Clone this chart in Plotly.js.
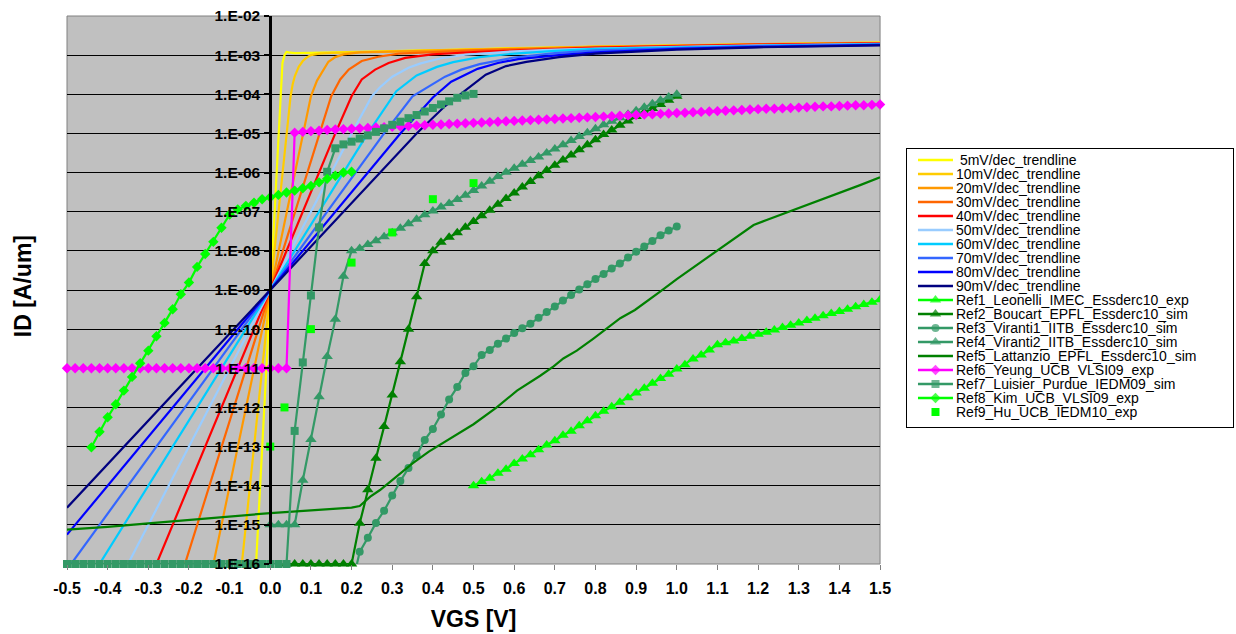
<!DOCTYPE html>
<html><head><meta charset="utf-8">
<script src="https://cdn.plot.ly/plotly-3.0.1.min.js"></script>
<style>html,body{margin:0;padding:0;background:#fff;}#chart{width:1236px;height:634px;}</style>
</head><body><div id="chart"></div>
<script>
// ---------- axis ticks ----------
const VGS_TICKS = [-0.5,-0.4,-0.3,-0.2,-0.1,0.0,0.1,0.2,0.3,0.4,0.5,0.6,0.7,0.8,0.9,1.0,1.1,1.2,1.3,1.4,1.5];
const VGS_TICK_LABELS = ["-0.5","-0.4","-0.3","-0.2","-0.1","0.0","0.1","0.2","0.3","0.4","0.5","0.6","0.7","0.8","0.9","1.0","1.1","1.2","1.3","1.4","1.5"];
const ID_TICKS = [1e-16,1e-15,1e-14,1e-13,1e-12,1e-11,1e-10,1e-9,1e-8,1e-7,1e-6,1e-5,1e-4,1e-3,1e-2];
const ID_TICK_LABELS = ["1.E-16","1.E-15","1.E-14","1.E-13","1.E-12","1.E-11","1.E-10","1.E-09","1.E-08","1.E-07","1.E-06","1.E-05","1.E-04","1.E-03","1.E-02"];

// ---------- series names ----------
const SERIES_NAMES = ["\u00A05mV/dec_trendline","10mV/dec_trendline","20mV/dec_trendline","30mV/dec_trendline","40mV/dec_trendline","50mV/dec_trendline","60mV/dec_trendline","70mV/dec_trendline","80mV/dec_trendline","90mV/dec_trendline","Ref1_Leonelli_IMEC_Essderc10_exp","Ref2_Boucart_EPFL_Essderc10_sim","Ref3_Viranti1_IITB_Essderc10_sim","Ref4_Viranti2_IITB_Essderc10_sim","Ref5_Lattanzio_EPFL_Essderc10_sim","Ref6_Yeung_UCB_VLSI09_exp","Ref7_Luisier_Purdue_IEDM09_sim","Ref8_Kim_UCB_VLSI09_exp","Ref9_Hu_UCB_IEDM10_exp"];

// ---------- data: VGS [V] and log10(ID [A/um]) ----------
const tl5_V    = [-0.04,0,0.02,0.03,0.035,0.04,0.045,0.06,0.1,0.2,0.3,0.4,0.5,0.6,0.7,0.8,0.9,1.0,1.1,1.2,1.3,1.4,1.5];
const tl5_logI = [-17,-9,-5.0,-3.2,-3.0,-2.92,-2.93,-2.95,-2.94,-2.92,-2.9,-2.87,-2.85,-2.82,-2.8,-2.78,-2.77,-2.75,-2.74,-2.72,-2.71,-2.69,-2.68];
const tl10_V    = [-0.08,0,0.04,0.05,0.055,0.06,0.07,0.08,0.09,0.1,0.12,0.15,0.2,0.3,0.4,0.5,0.6,0.8,1.0,1.2,1.5];
const tl10_logI = [-17,-9,-5.0,-4.05,-3.75,-3.55,-3.3,-3.15,-3.06,-3.0,-2.96,-2.94,-2.93,-2.9,-2.88,-2.85,-2.83,-2.78,-2.75,-2.72,-2.68];
const tl20_V    = [-0.16,0,0.08,0.1,0.115,0.127,0.143,0.16,0.18,0.22,0.3,0.4,0.5,0.6,0.8,1.0,1.2,1.5];
const tl20_logI = [-17,-9,-5.0,-4.05,-3.65,-3.45,-3.17,-3.05,-2.98,-2.93,-2.91,-2.88,-2.86,-2.83,-2.79,-2.76,-2.72,-2.69];
const tl30_V    = [-0.24,0,0.12,0.15,0.172,0.193,0.225,0.266,0.316,0.4,0.5,0.6,0.8,1.0,1.2,1.5];
const tl30_logI = [-17,-9,-5.0,-4.05,-3.62,-3.37,-3.15,-3.04,-2.96,-2.92,-2.88,-2.85,-2.8,-2.76,-2.73,-2.69];
const tl40_V    = [-0.32,0,0.16,0.2,0.225,0.258,0.291,0.332,0.398,0.5,0.6,0.8,1.0,1.2,1.5];
const tl40_logI = [-17,-9,-5.0,-4.05,-3.62,-3.37,-3.2,-3.07,-2.98,-2.92,-2.88,-2.81,-2.77,-2.73,-2.7];
const tl50_V    = [-0.4,0,0.2,0.25,0.27,0.3,0.34,0.37,0.42,0.48,0.6,0.7,0.8,1.0,1.2,1.5];
const tl50_logI = [-17,-9,-5.0,-4.05,-3.82,-3.55,-3.32,-3.21,-3.08,-2.99,-2.9,-2.86,-2.83,-2.79,-2.75,-2.71];
const tl60_V    = [-0.48,0,0.24,0.31,0.36,0.41,0.45,0.515,0.6,0.7,0.8,1.0,1.2,1.5];
const tl60_logI = [-17,-9,-5.0,-3.92,-3.52,-3.3,-3.18,-3.05,-2.96,-2.89,-2.84,-2.8,-2.76,-2.72];
const tl70_V    = [-0.56,0,0.28,0.35,0.39,0.43,0.47,0.515,0.6,0.7,0.8,1.0,1.2,1.5];
const tl70_logI = [-17,-9,-5.0,-4.05,-3.8,-3.55,-3.37,-3.23,-3.06,-2.95,-2.88,-2.82,-2.77,-2.73];
const tl80_V    = [-0.5,0,0.32,0.4,0.445,0.51,0.56,0.61,0.71,0.8,1.0,1.2,1.5];
const tl80_logI = [-15.25,-9,-5.0,-4.08,-3.68,-3.35,-3.2,-3.1,-3.0,-2.93,-2.84,-2.79,-2.74];
const tl90_V    = [-0.5,0,0.36,0.43,0.48,0.53,0.58,0.63,0.71,0.8,1.0,1.2,1.5];
const tl90_logI = [-14.56,-9,-5.0,-4.3,-3.9,-3.5,-3.28,-3.17,-3.05,-2.96,-2.86,-2.8,-2.75];

const ref1_V = [0.50,0.52,0.54,0.56,0.58,0.60,0.62,0.64,0.66,0.68,
0.70,0.72,0.74,0.76,0.78,0.80,0.82,0.84,0.86,0.88,
0.90,0.92,0.94,0.96,0.98,1.00,1.02,1.04,1.06,1.08,
1.10,1.12,1.14,1.16,1.18,1.20,1.22,1.24,1.26,1.28,
1.30,1.32,1.34,1.36,1.38,1.40,1.42,1.44,1.46,1.48,1.50];
const ref1_logI = [-14.00,-13.90,-13.81,-13.68,-13.58,-13.43,-13.32,-13.21,-13.08,-12.96,
-12.85,-12.71,-12.61,-12.47,-12.34,-12.21,-12.10,-11.98,-11.87,-11.75,
-11.63,-11.51,-11.38,-11.26,-11.15,-11.02,-10.91,-10.76,-10.66,-10.53,
-10.40,-10.35,-10.30,-10.24,-10.18,-10.13,-10.08,-10.02,-9.96,-9.90,
-9.84,-9.78,-9.72,-9.66,-9.60,-9.55,-9.49,-9.43,-9.37,-9.31,-9.25];

const ref2_V = [0.04,0.06,0.08,0.10,0.12,0.14,0.16,0.18,0.20,0.22,
0.24,0.26,0.28,0.30,0.32,0.34,0.36,0.38,0.40,0.42,
0.44,0.46,0.48,0.50,0.52,0.54,0.56,0.58,0.60,0.62,
0.64,0.66,0.68,0.70,0.72,0.74,0.76,0.78,0.80,0.82,
0.84,0.86,0.88,0.90,0.92,0.94,0.96,0.98,1.00];
const ref2_logI = [-16,-16,-16,-16,-16,-16,-16,-16,-16,-14.96,
-14.10,-13.30,-12.49,-11.68,-10.83,-10.00,-9.17,-8.32,-8.00,-7.78,
-7.65,-7.54,-7.40,-7.25,-7.10,-6.96,-6.81,-6.66,-6.52,-6.37,
-6.23,-6.08,-5.94,-5.81,-5.68,-5.55,-5.42,-5.29,-5.16,-5.03,
-4.91,-4.79,-4.68,-4.57,-4.46,-4.36,-4.26,-4.15,-4.05];

const ref3_V = [0.20,0.22,0.24,0.26,0.28,0.30,0.32,0.34,0.36,0.38,
0.40,0.42,0.44,0.46,0.48,0.50,0.52,0.54,0.56,0.58,
0.60,0.62,0.64,0.66,0.68,0.70,0.72,0.74,0.76,0.78,
0.80,0.82,0.84,0.86,0.88,0.90,0.92,0.94,0.96,0.98,1.00];
const ref3_logI = [-16.6,-15.69,-15.33,-14.95,-14.64,-14.25,-13.88,-13.55,-13.22,-12.83,
-12.55,-12.18,-11.80,-11.48,-11.12,-10.95,-10.66,-10.53,-10.37,-10.24,
-10.10,-9.98,-9.86,-9.71,-9.56,-9.42,-9.27,-9.13,-8.99,-8.85,
-8.72,-8.59,-8.45,-8.32,-8.17,-8.02,-7.89,-7.75,-7.60,-7.48,-7.38];

const ref4_V = [0.00,0.02,0.04,0.06,0.08,0.10,0.12,0.14,0.16,0.18,
0.20,0.22,0.24,0.26,0.28,0.30,0.32,0.34,0.36,0.38,
0.40,0.42,0.44,0.46,0.48,0.50,0.52,0.54,0.56,0.58,
0.60,0.62,0.64,0.66,0.68,0.70,0.72,0.74,0.76,0.78,
0.80,0.82,0.84,0.86,0.88,0.90,0.92,0.94,0.96,0.98,1.00];
const ref4_logI = [-15,-15,-15,-15,-13.86,-12.82,-11.73,-10.70,-9.75,-8.65,
-8.00,-7.94,-7.84,-7.74,-7.64,-7.54,-7.42,-7.31,-7.19,-7.08,
-6.98,-6.88,-6.79,-6.69,-6.58,-6.46,-6.34,-6.22,-6.10,-5.99,
-5.89,-5.79,-5.69,-5.60,-5.50,-5.40,-5.29,-5.18,-5.08,-4.98,
-4.88,-4.78,-4.69,-4.60,-4.51,-4.42,-4.33,-4.24,-4.15,-4.07,-4.00];

const ref5_V = [-0.5,-0.4,-0.3,-0.2,-0.1,0.0,0.1,0.2,0.22,0.246,0.27,0.31,0.35,0.39,0.45,0.5,
0.557,0.607,0.664,0.697,0.721,0.754,0.795,0.828,0.861,0.897,0.926,0.959,1.0,1.066,1.123,1.189,
1.221,1.287,1.352,1.41,1.451,1.5];
const ref5_logI = [-15.12,-15.05,-14.96,-14.87,-14.78,-14.70,-14.63,-14.56,-14.52,-14.28,-14.11,-13.77,-13.43,-13.13,-12.75,-12.43,
-12.0,-11.57,-11.19,-10.95,-10.75,-10.55,-10.24,-9.98,-9.72,-9.51,-9.30,-9.04,-8.72,-8.23,-7.81,-7.34,
-7.21,-6.96,-6.70,-6.49,-6.32,-6.12];

const ref6_V = [-0.50,-0.48,-0.46,-0.44,-0.42,-0.40,-0.38,-0.36,-0.34,-0.32,
-0.30,-0.28,-0.26,-0.24,-0.22,-0.20,-0.18,-0.16,-0.14,-0.12,
-0.10,-0.08,-0.06,-0.04,-0.02,0.00,0.02,0.04,
0.06,0.08,0.10,0.12,0.14,0.16,0.18,0.20,0.22,0.24,
0.26,0.28,0.30,0.32,0.34,0.36,0.38,0.40,0.42,0.44,
0.46,0.48,0.50,0.52,0.54,0.56,0.58,0.60,0.62,0.64,
0.66,0.68,0.70,0.72,0.74,0.76,0.78,0.80,0.82,0.84,
0.86,0.88,0.90,0.92,0.94,0.96,0.98,1.00,1.02,1.04,
1.06,1.08,1.10,1.12,1.14,1.16,1.18,1.20,1.22,1.24,
1.26,1.28,1.30,1.32,1.34,1.36,1.38,1.40,1.42,1.44,
1.46,1.48,1.50];
const ref6_logI = [-11,-11,-11,-11,-11,-11,-11,-11,-11,-11,
-11,-11,-11,-11,-11,-11,-11,-11,-11,-11,
-11,-11,-11,-11,-11,-11,-11,-11,
-4.98,-4.96,-4.94,-4.93,-4.91,-4.90,-4.89,-4.88,-4.87,-4.86,
-4.85,-4.84,-4.83,-4.82,-4.81,-4.80,-4.79,-4.78,-4.77,-4.76,
-4.75,-4.74,-4.73,-4.72,-4.71,-4.70,-4.69,-4.68,-4.67,-4.66,
-4.65,-4.64,-4.63,-4.62,-4.61,-4.60,-4.59,-4.58,-4.57,-4.56,
-4.55,-4.54,-4.53,-4.52,-4.51,-4.50,-4.49,-4.48,-4.47,-4.46,
-4.45,-4.44,-4.43,-4.42,-4.41,-4.40,-4.39,-4.38,-4.37,-4.37,
-4.36,-4.35,-4.34,-4.33,-4.32,-4.31,-4.31,-4.30,-4.29,-4.28,
-4.28,-4.27,-4.26];

const ref7_V = [-0.50,-0.48,-0.46,-0.44,-0.42,-0.40,-0.38,-0.36,-0.34,-0.32,
-0.30,-0.28,-0.26,-0.24,-0.22,-0.20,-0.18,-0.16,-0.14,-0.12,
-0.10,-0.08,-0.06,-0.04,-0.02,0.00,0.02,0.04,0.06,0.08,
0.10,0.12,0.14,0.16,0.18,0.20,0.22,0.24,0.26,0.28,
0.30,0.32,0.34,0.36,0.38,0.40,0.42,0.44,0.46,0.48,0.50];
const ref7_logI = [-16,-16,-16,-16,-16,-16,-16,-16,-16,-16,
-16,-16,-16,-16,-16,-16,-16,-16,-16,-16,
-16,-16,-16,-16,-16,-16,-16,-16,-12.60,-10.85,
-9.14,-7.40,-5.98,-5.38,-5.28,-5.21,-5.13,-5.05,-4.96,-4.87,
-4.78,-4.70,-4.61,-4.53,-4.44,-4.35,-4.26,-4.18,-4.09,-4.03,-3.99];

const ref8_V = [-0.44,-0.42,-0.40,-0.38,-0.36,-0.34,-0.32,-0.30,-0.28,-0.26,
-0.24,-0.22,-0.20,-0.18,-0.16,-0.14,-0.12,-0.10,-0.08,-0.06,
-0.04,-0.02,0.00,0.02,0.04,0.06,0.08,0.10,0.12,0.14,
0.16,0.18,0.20];
const ref8_logI = [-13.02,-12.62,-12.25,-11.92,-11.57,-11.22,-10.87,-10.55,-10.18,-9.84,
-9.49,-9.11,-8.81,-8.41,-8.08,-7.77,-7.41,-7.07,-6.94,-6.85,
-6.77,-6.68,-6.63,-6.57,-6.51,-6.46,-6.40,-6.34,-6.25,-6.16,
-6.08,-6.00,-5.98];

const ref9_V = [0.0,0.035,0.1,0.2,0.3,0.4,0.5];
const ref9_logI = [-13.0,-12.0,-10.0,-8.3,-7.53,-6.68,-6.27];

// ---------- styles (kept apart from data) ----------
const FONT = '"Liberation Sans", Arial, sans-serif';
const STYLES = [
  {color:'#FFFF00', mode:'lines'},
  {color:'#FFCC00', mode:'lines'},
  {color:'#FF9900', mode:'lines'},
  {color:'#FF6600', mode:'lines'},
  {color:'#FF0000', mode:'lines'},
  {color:'#99CCFF', mode:'lines'},
  {color:'#00CCFF', mode:'lines'},
  {color:'#3366FF', mode:'lines'},
  {color:'#0000FF', mode:'lines'},
  {color:'#000080', mode:'lines'},
  {color:'#00FF00', mode:'lines+markers', symbol:'triangle-up', size:10, clip:true},
  {color:'#008000', mode:'lines+markers', symbol:'triangle-up', size:10, clip:false},
  {color:'#339966', mode:'lines+markers', symbol:'circle', size:8, clip:true},
  {color:'#339966', mode:'lines+markers', symbol:'triangle-up', size:10, clip:false},
  {color:'#008000', mode:'lines'},
  {color:'#FF00FF', mode:'lines+markers', symbol:'diamond', size:8, clip:false},
  {color:'#339966', mode:'lines+markers', symbol:'square', size:8, clip:false},
  {color:'#00FF00', mode:'lines+markers', symbol:'diamond', size:8, clip:true},
  {color:'#00FF00', mode:'markers', symbol:'square', size:8, clip:true}
];
const DATA = [
  [tl5_V,tl5_logI],[tl10_V,tl10_logI],[tl20_V,tl20_logI],[tl30_V,tl30_logI],[tl40_V,tl40_logI],
  [tl50_V,tl50_logI],[tl60_V,tl60_logI],[tl70_V,tl70_logI],[tl80_V,tl80_logI],[tl90_V,tl90_logI],
  [ref1_V,ref1_logI],[ref2_V,ref2_logI],[ref3_V,ref3_logI],[ref4_V,ref4_logI],[ref5_V,ref5_logI],
  [ref6_V,ref6_logI],[ref7_V,ref7_logI],[ref8_V,ref8_logI],[ref9_V,ref9_logI]
];

const traces = DATA.map((d, i) => {
  const s = STYLES[i];
  const t = {
    type:'scatter', x:d[0], y:d[1].map(v => Math.pow(10, v)), mode:s.mode,
    name:SERIES_NAMES[i], xaxis:'x', yaxis:'y', showlegend:false, hoverinfo:'skip',
    line:{color:s.color, width:2.2},
    cliponaxis: s.clip === undefined ? true : s.clip
  };
  if (s.symbol) t.marker = {symbol:s.symbol, size:s.size, color:s.color, line:{width:0}};
  return t;
});

// ---------- hand-drawn legend (box of 326 x 278 px units) ----------
const LEG_W = 326, LEG_H = 278, LEG_Y0 = 11, LEG_DY = 14, SW_X0 = 11, SW_X1 = 46, TXT_X = 48;
const legendAnn = [];
STYLES.forEach((s, i) => {
  const yc = LEG_Y0 + LEG_DY * i, mid = (SW_X0 + SW_X1) / 2;
  if (s.mode === 'lines') {
    traces.push({type:'scatter', x:[SW_X0, SW_X1], y:[yc, yc], mode:'lines', xaxis:'x2', yaxis:'y2',
      line:{color:s.color, width:2.5}, showlegend:false, hoverinfo:'skip'});
  } else if (s.mode === 'markers') {
    traces.push({type:'scatter', x:[mid], y:[yc], mode:'markers', xaxis:'x2', yaxis:'y2',
      marker:{symbol:s.symbol, size:s.size, color:s.color}, showlegend:false, hoverinfo:'skip'});
  } else {
    traces.push({type:'scatter', x:[SW_X0, mid, SW_X1], y:[yc, yc, yc], mode:'lines+markers', xaxis:'x2', yaxis:'y2',
      line:{color:s.color, width:2.5}, marker:{symbol:s.symbol, size:[0, s.size, 0], color:s.color, line:{width:0}},
      showlegend:false, hoverinfo:'skip'});
  }
  legendAnn.push({xref:'x2', yref:'y2', x:TXT_X, y:yc, xanchor:'left', yanchor:'middle', showarrow:false,
    borderpad:0, text:SERIES_NAMES[i], font:{family:FONT, size:14, color:'#000'}});
});

const MAIN_RIGHT = 0.6973;
const layout = {
  width:1236, height:634,
  margin:{l:67, r:3, t:16, b:70, pad:0},
  paper_bgcolor:'#ffffff', plot_bgcolor:'rgba(0,0,0,0)',
  showlegend:false,
  font:{family:FONT, color:'#000'},
  xaxis:{domain:[0, MAIN_RIGHT], range:[-0.5, 1.5], anchor:'y',
    tickmode:'array', tickvals:VGS_TICKS, ticktext:VGS_TICK_LABELS,
    ticks:'outside', ticklen:5, tickcolor:'#808080', tickwidth:1, ticklabelstandoff:5,
    tickfont:{family:FONT, size:16, weight:'bold', color:'#000'},
    showgrid:false, zeroline:false, showline:false, fixedrange:true,
    title:{text:'VGS [V]', font:{family:FONT, size:23, weight:'bold', color:'#000'}, standoff:14}},
  yaxis:{type:'log', range:[-16, -2], anchor:'free', position:MAIN_RIGHT*0.25, side:'left',
    tickmode:'array', tickvals:ID_TICKS, ticktext:ID_TICK_LABELS,
    ticks:'outside', ticklen:5, tickwidth:2, tickcolor:'#000', ticklabelstandoff:1,
    tickfont:{family:FONT, size:15.5, weight:'bold', color:'#000'},
    showline:true, linecolor:'#000', linewidth:3,
    showgrid:true, gridcolor:'#000', gridwidth:1, zeroline:false, fixedrange:true, layer:'above traces'},
  xaxis2:{domain:[0.7204, 1.0], range:[0, LEG_W], anchor:'y2', showline:true, mirror:true, linecolor:'#000', linewidth:1,
    showgrid:false, zeroline:false, showticklabels:false, ticks:'', fixedrange:true},
  yaxis2:{domain:[0.25, 0.7573], range:[LEG_H, 0], anchor:'x2', showline:true, mirror:true, linecolor:'#000', linewidth:1,
    showgrid:false, zeroline:false, showticklabels:false, ticks:'', fixedrange:true},
  shapes:[{type:'rect', xref:'paper', yref:'paper', x0:0, x1:MAIN_RIGHT, y0:0, y1:1,
    fillcolor:'#C0C0C0', line:{color:'#808080', width:1}, layer:'below'}],
  annotations: legendAnn.concat([{xref:'paper', yref:'paper', x:-0.0377, y:0.507, xanchor:'center', yanchor:'middle',
    showarrow:false, textangle:-90, text:'ID [A/um]', font:{family:FONT, size:23, weight:'bold', color:'#000'}}])
};

Plotly.newPlot('chart', traces, layout, {displayModeBar:false, staticPlot:true});
</script></body></html>
